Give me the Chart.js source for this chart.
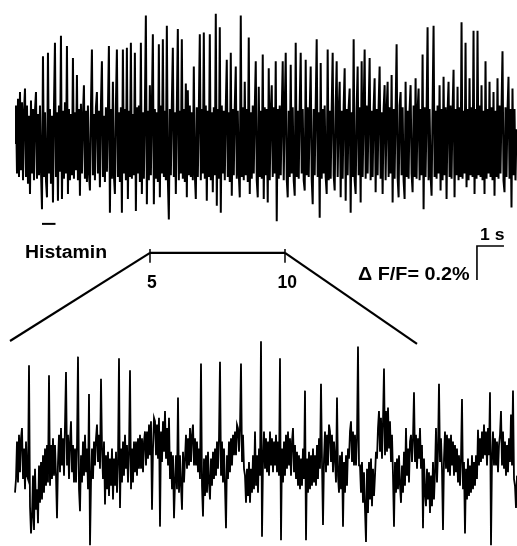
<!DOCTYPE html>
<html>
<head>
<meta charset="utf-8">
<script src="https://cdn.jsdelivr.net/npm/chart.js@4.4.0/dist/chart.umd.min.js"></script>
<style>
  body { margin: 0; background: #fff; }
  #wrap { position: relative; width: 517px; height: 546px; }
  .lbl {
    position: absolute;
    font-family: "Liberation Sans", Arial, sans-serif;
    font-weight: bold;
    color: #000;
    white-space: nowrap;
    line-height: 1;
    transform-origin: left top;
  }
</style>
</head>
<body>
<div id="wrap">
  <canvas id="trace"></canvas>
  <div class="lbl" id="lblHist" style="left:25px;top:243px;font-size:18px;transform:scaleX(1.08)">Histamin</div>
  <div class="lbl" id="lbl5" style="font-size:17.5px"></div>
  <div class="lbl" id="lbl10" style="font-size:17.5px"></div>
  <div class="lbl" id="lblDff" style="left:358px;top:265px;font-size:18px;transform:scaleX(1.1)">&Delta; F/F= 0.2%</div>
  <div class="lbl" id="lblSec" style="left:480px;top:227px;font-size:16px;transform:scaleX(1.1)">1 s</div>
</div>
<script>
// fluorescence traces, ΔF/F in units of 0.01 %
// whole record, one sample every 0.037 s
const topTrace = [
  0, 22, -18, 26, -20, 30, -16, 24, -22, 18, 32, -20, 22, -24, 16, -30, 25, -18, 20, -22,
  19, 30, -21, 17, -19, 22, -16, -39, 51, -20, 18, -22, -32, 53, -18, 20, -24, 16, -35, 21,
  59, -20, 18, -34, 22, -17, 63, -33, 19, -21, 24, -18, 57, -30, 20, -22, 17, -19, 50, -21,
  18, -16, 40, -22, 20, -31, 23, -18, 16, 34, -21, 19, -23, 22, -17, -28, 20, 55, -19, 17,
  -22, 21, 30, -18, 19, -26, 22, 48, -20, 16, -23, 21, -17, 18, 57, -41, 20, -21, 36, -19,
  -30, 22, 55, -20, 18, -23, 21, -41, 55, -18, 20, -22, 56, -33, 19, -20, 59, -21, 17, -19,
  53, -40, 21, -18, 22, -23, 59, -30, 18, -21, 20, 75, -36, 19, -22, 34, -19, 21, 64, -36,
  20, -21, 18, -23, 58, -32, 22, -18, 61, -20, 19, -22, 69, -21, -45, 20, -19, 23, 56, -20,
  18, -30, 21, 67, -22, 19, -18, 61, -21, 20, -23, 35, -32, 31, -19, 22, -20, 18, -22, 45,
  -18, -33, 21, -20, 19, 64, -22, 20, -18, 65, -21, 22, -34, 19, -20, 64, -22, 18, -29, 21,
  -19, 76, -37, 20, -21, 68, -41, 22, -18, 19, -22, 21, 49, -20, 18, -23, 53, -31, 20, -19,
  22, 45, -21, 19, -18, -32, 75, -20, 21, -22, 36, -19, 20, -23, 62, -30, 18, -21, 22, -18,
  20, 48, -22, -32, 33, -20, 19, -21, 52, -33, 21, -19, 20, -35, 44, -22, 18, 34, -20, 21,
  -18, 48, -46, 20, -21, 22, -19, 18, 48, -22, 20, 53, -21, -32, 19, -20, 46, -18, 21, -22,
  -31, 59, -20, 19, -21, 22, 53, -18, 20, -22, -28, 49, -19, 21, -20, 18, 45, -21, -36, 20,
  -19, 22, 61, -20, 18, -44, 47, -21, 20, -18, 22, -20, -30, 55, -22, 19, -21, 20, 53, -19,
  -28, 21, 48, -20, 18, 36, -32, 19, -21, 22, 44, -34, 20, -19, 21, 32, -41, 18, -20, 61,
  -22, -30, 20, 45, -19, 21, -35, 48, -20, 19, 55, -21, 22, -18, 20, 50, -22, 19, -20, 21,
  38, -29, 20, -19, 22, 45, -21, 18, -30, 20, 34, -22, 19, 36, -20, 21, -18, 40, -35, 20,
  -21, 19, 58, -20, -32, 22, 30, -19, 21, -22, -33, 36, -20, 19, -21, 20, 34, -18, -29, 22,
  -20, 38, -21, 19, 32, -22, 20, -19, 52, -39, 21, -20, 18, 68, -22, 20, -19, -31, 21, 69,
  -20, 19, -21, 22, -18, 34, -28, 20, -22, 39, -19, 21, -33, 18, 36, -20, 22, -21, 19, 43,
  -32, 20, -19, 33, -22, 21, -20, 71, -21, 19, -18, 59, -26, 20, -22, 38, -19, 21, -20, 66,
  -30, 20, -21, 66, -19, 22, -20, 34, -22, 19, -30, 48, -21, 20, -18, 36, -20, 21, -22, 30,
  -31, 19, -20, 38, -21, 22, -18, 20, 54, -22, -29, 21, -20, 19, 39, -21, 20, -38, 32, -19,
  20, -22, 8
];
const topStep = 0.037;

// expanded 5–10 s window, one sample every 0.00996 s
const bottomTrace = [
  -18, -10, 12, -12, 16, -6, 14, 20, -10, 8, -16, 12, -8, -10, 57, -26, -42, -32, -8, -40,
  -4, -28, -16, -36, -2, -24, 0, -22, 4, -18, 8, -14, 10, -12, 51, -14, 10, -10, 14, -8,
  10, -8, -33, 0, 16, -6, 20, -2, 14, -8, 22, 53, -2, 16, -10, 12, 24, -6, 10, -12,
  8, -12, 10, 62, -16, -29, 4, -12, 12, -8, 16, -6, 8, -16, 40, -49, -12, 8, -10, 12,
  -2, 14, 22, 0, 16, -4, 49, 8, -10, 12, -25, 4, -16, 6, -20, 2, -14, 8, -22, 2,
  -14, 6, -18, 0, 61, -27, 8, -12, 12, -8, 16, -4, 10, -12, 6, 54, -16, 8, -12, 12,
  -6, 12, -8, 14, -4, 16, -4, 14, -6, 12, 18, -2, 18, 2, 22, 4, 24, -28, 8, 26,
  24, 4, 22, 2, 26, -38, 18, 0, 24, 6, 30, 2, 20, -2, 26, -10, 6, -16, 4, -33,
  -12, 4, -16, 38, -18, 4, -14, -28, 6, -12, 2, 16, -4, 14, -2, 20, 0, 16, 22, -2,
  14, -2, 12, -6, 8, -10, 58, -14, -32, 2, -20, 4, -18, 6, -12, -22, 2, -14, 6, -10,
  8, -8, 12, -4, 14, 59, -8, 12, -12, 8, -14, -39, 4, -10, 12, -6, 14, -2, 16, 4,
  18, 4, 22, 20, 6, 20, 58, 0, 16, -4, -8, -24, -4, -20, 0, -24, -4, -18, 4, -16,
  18, -14, 4, -18, 8, -8, 71, -44, 0, 18, -4, 14, -6, 12, -8, 18, -2, 14, -6, 12,
  -2, 16, -6, 12, -8, 61, -46, 8, -12, 12, -8, 16, -4, 18, -2, 14, -8, 12, 20, -6,
  10, -10, 6, -14, 4, -16, 2, -14, 8, -10, 42, -46, 2, -18, 6, -16, 4, -14, 8, -12,
  4, -14, 10, -10, 14, -4, 46, 0, -37, 2, 18, -6, 16, -2, 22, 18, 0, 16, -6, 12,
  2, -12, 38, -8, -18, 4, -16, 6, -38, 0, -18, 4, -14, 8, 2, 18, 24, 0, 18, -2,
  16, -2, 14, 68, -2, -2, -18, 0, -24, -6, -28, -47, -4, -30, 0, -22, 2, -26, -4, -20,
  -8, 6, 2, 20, 30, 6, 26, 2, 24, 55, 4, 30, 6, 32, 8, 24, 0, 16, -8, -38,
  0, -18, 2, -16, 4, -14, -24, -2, -18, 6, -14, 20, -8, 8, -12, 12, 16, 0, 14, 41,
  0, 16, -4, 14, 2, 20, -4, 10, -39, 2, -18, -26, -4, -22, -6, -30, -8, -26, 0, -22,
  -6, 20, -12, 6, 46, 0, 14, -4, -40, 2, 18, -4, 16, -6, 14, -8, 16, -2, 12, -8,
  10, -6, 8, -12, 4, -14, 2, 37, -16, 0, -42, -4, -22, 2, -20, -2, -18, 4, -16, 0,
  -14, 4, -10, 19, -2, 14, 0, 18, 2, 22, 4, 18, -2, 20, 4, 41, -49, 2, 18, -2,
  14, -2, 12, -6, 10, 16, 30, -2, 18, -4, 12, -8, 10, -6, 14, 0, 28, -2, 42, -10,
  -14, -27, -8
];
const bottomStep = 0.00996;
const bottomStart = 5;

const histaminWindow = [5, 10];         // s
const windowTickLabels = ['5', '10'];
const marker = [1.0, 1.5];              // s, short mark under the top trace
const scaleBarTime = 1;                 // s
const scaleBarDff = 20;                 // 0.01 % -> 0.2 %

// layout levels (top-trace units)
const markerY = -47.6;
const barY = -64.7;
const tickUp = 2.3, tickDown = 5.8;
const leftEnd = { x: -0.185, y: -116.5 };
const rightEnd = { x: 14.89, y: -118.2 };
const scaleBarX = 17.11, scaleBarY = -60.6;

const topPoints = topTrace.map((v, i) => ({ x: i * topStep, y: v }));
const bottomPoints = bottomTrace.map((v, i) => ({ x: bottomStart + i * bottomStep, y: v }));

function seg(points, width) {
  return {
    data: points,
    xAxisID: 'x',
    yAxisID: 'yTop',
    borderColor: '#000',
    borderWidth: width,
    pointRadius: 0,
    fill: false,
    tension: 0
  };
}

const [w0, w1] = histaminWindow;

const chart = new Chart(document.getElementById('trace'), {
  type: 'line',
  data: {
    datasets: [
      seg(topPoints, 2),
      {
        data: bottomPoints,
        xAxisID: 'x2',
        yAxisID: 'yBot',
        borderColor: '#000',
        borderWidth: 1.8,
        pointRadius: 0,
        fill: false,
        tension: 0
      },
      seg([{ x: marker[0], y: markerY }, { x: marker[1], y: markerY }], 2),
      seg([{ x: w0, y: barY }, { x: w1, y: barY }], 2.2),
      seg([{ x: w0, y: barY + tickUp }, { x: w0, y: barY - tickDown }], 1.5),
      seg([{ x: w1, y: barY + tickUp }, { x: w1, y: barY - tickDown }], 1.5),
      seg([{ x: w0, y: barY }, leftEnd], 2.2),
      seg([{ x: w1, y: barY }, rightEnd], 2.2),
      seg([
        { x: scaleBarX + scaleBarTime, y: scaleBarY },
        { x: scaleBarX, y: scaleBarY },
        { x: scaleBarX, y: scaleBarY - scaleBarDff }
      ], 1.6)
    ]
  },
  options: {
    responsive: true,
    maintainAspectRatio: false,
    animation: false,
    layout: { padding: 0 },
    plugins: { legend: { display: false }, tooltip: { enabled: false } },
    scales: {
      x: { type: 'linear', display: false, min: -0.5556, max: 18.593 },
      x2: { type: 'linear', display: false, min: 4.8506, max: 10.0 },
      yTop: { type: 'linear', display: false, min: -237.1, max: 84.1 },
      yBot: { type: 'linear', display: false, min: -49.4, max: 271.8 }
    }
  }
});

// window tick labels under the histamin bar
const xs = chart.scales.x;
[['lbl5', w0], ['lbl10', w1]].forEach(([id, t], k) => {
  const el = document.getElementById(id);
  el.textContent = windowTickLabels[k];
  const px = xs.getPixelForValue(t);
  el.style.left = (px - el.offsetWidth / 2 + 2) + 'px';
  el.style.top = '274px';
});
</script>
</body>
</html>
